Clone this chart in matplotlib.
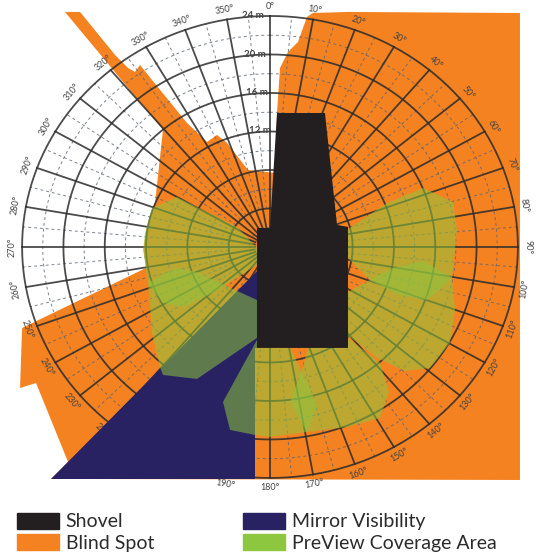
import numpy as np
import matplotlib.pyplot as plt
from matplotlib.patches import Patch, Polygon

# grid (metres and degrees, 0 at the top, clockwise)
major_rings = [4, 8, 12, 16, 20, 24]
minor_rings = [2, 6, 10, 14, 18, 22]
major_spokes = list(range(0, 360, 10))
minor_spokes = list(range(5, 360, 10))
range_labels = ['12 m', '16 m', '20 m', '24 m']
range_label_r = [12.1, 16.0, 20.0, 24.0]
range_label_x = [0.1, -0.2, -0.4, -0.6]

# regions as (x, y) in metres from the machine centre
blind_x = [-19.85, -18.39, -15.0, -13.75, -13.07, -12.58, -11.42, -8.03, -6.1, -5.13, -4.16, -2.13,
           0.48, 0.68, 0.97, 1.74, 2.71, 3.58, 4.16, 7.55, 24.2, 24.2, -21.2, -19.55, -22.65,
           -24.2, -24.0, -12.0, -12.25, -12.05, -11.38, -11.13, -10.36]
blind_y = [24.42, 24.42, 19.95, 18.6, 18.18, 18.91, 17.35, 12.88, 10.91, 11.64, 10.81, 8.0,
           7.69, 13.92, 18.6, 20.26, 21.3, 23.9, 24.31, 24.42, 24.31, -24.21, -24.1, -22.34, -14.13,
           -14.65, -8.42, -2.18, -0.31, 1.45, 4.05, 4.57, 12.16]

mirror_x = [-21.2, -1.45, -1.45, -1.16, -1.16]
mirror_y = [-24.1, -24.1, -10.5, -10.5, -2.39]

shovel_x = [-1.26, 0.0, 0.68, 5.32, 6.49, 7.55, 7.55, -1.26]
shovel_y = [1.97, 1.97, 13.92, 13.92, 2.29, 2.08, -10.49, -10.49]

preview_a_x = [-1.26, -3.19, -9.0, -11.42, -12.1, -12.29, -11.81, -10.36, -8.42, -5.52, -1.26]
preview_a_y = [-0.1, 2.08, 5.19, 4.05, 1.45, -0.31, -3.74, -5.82, -6.23, -4.78, -1.87]
preview_b_x = [-11.81, -9.2, -7.07, -3.39, -1.26, -1.26, -7.07, -10.36, -10.65, -11.42]
preview_b_y = [-3.74, -2.18, -2.6, -4.47, -5.51, -9.45, -13.71, -13.3, -12.47, -8.94]
preview_d_x = [-1.26, -4.55, -3.87, -1.45, 0.0, 3.58, 4.55, 2.9, 1.94, -1.26]
preview_d_y = [-9.66, -16.1, -19.01, -19.53, -19.74, -19.22, -16.42, -12.57, -10.49, -10.49]
preview_e_x = [3.68, 7.26, 7.55, 10.65, 11.52, 10.65, 7.45, 3.58, 1.94, 3.1]
preview_e_y = [-10.49, -10.18, -9.45, -12.05, -15.06, -17.77, -18.7, -19.22, -16.1, -12.78]
preview_f_x = [7.55, 9.68, 11.91, 14.81, 17.62, 17.91, 17.42, 15.49, 13.07, 10.36, 7.74, 7.26]
preview_f_y = [-4.68, -3.43, -2.18, -1.45, -3.22, -6.55, -9.97, -12.57, -12.88, -11.53, -9.35, -9.35]
preview_g_x = [7.45, 11.33, 14.81, 17.72, 18.1, 17.91, 17.62, 15.2, 12.58, 9.68, 7.55]
preview_g_y = [1.77, 4.57, 6.13, 4.68, 1.77, -0.31, -3.22, -5.51, -4.99, -3.43, -1.14]

ORANGE = '#F58220'
NAVY = '#282262'
BLACK = '#231F20'
GREEN = '#8DC63F'

plt.rcParams['font.family'] = ['Lato', 'DejaVu Sans']

fig = plt.figure(figsize=(5.37, 5.54), dpi=100)
ax = fig.add_axes([0, 0, 1, 1])
ax.set_xlim(-26.14, 25.85)
ax.set_ylim(-31.9, 25.66)
ax.axis('off')


def add_region(xs, ys, color, z, alpha=1.0):
    ax.add_patch(Polygon(np.column_stack([xs, ys]), closed=True, facecolor=color,
                         edgecolor='none', alpha=alpha, zorder=z))


def to_xy(r, deg):
    t = np.radians(deg)
    return r * np.sin(t), r * np.cos(t)


add_region(blind_x, blind_y, ORANGE, 1)

# rings and spokes
sweep = np.linspace(0, 360, 361)
for r in minor_rings:
    x, y = to_xy(r, sweep)
    ax.plot(x, y, color='#5a6474', lw=0.7, ls=(0, (3, 3)), alpha=0.8, zorder=2)
for a in minor_spokes:
    x, y = to_xy(np.array([4, 24]), a)
    ax.plot(x, y, color='#5a6474', lw=0.7, ls=(0, (3, 3)), alpha=0.8, zorder=2)
for r in major_rings:
    x, y = to_xy(r, sweep)
    ax.plot(x, y, color='#2b2b2b', lw=1.3, alpha=0.85, zorder=3)
for a in major_spokes:
    x, y = to_xy(np.array([1.5, 24]), a)
    ax.plot(x, y, color='#2b2b2b', lw=1.3, alpha=0.85, zorder=3)

# angle labels round the outside
for a in major_spokes:
    x, y = to_xy(25.0, a)
    if a <= 90:
        rot = -a
    elif a < 260:
        rot = 180 - a
    else:
        rot = 360 - a
    ax.text(x, y, f'{a}°', fontsize=6.5, color='#444444', rotation=rot,
            ha='center', va='center', rotation_mode='anchor', zorder=3)

for lab, r, x in zip(range_labels, range_label_r, range_label_x):
    ax.text(x, r, lab, fontsize=7, fontweight='bold', color='#444444',
            ha='right', va='center', zorder=3)

add_region(mirror_x, mirror_y, NAVY, 4)

for xs, ys in [(preview_a_x, preview_a_y), (preview_b_x, preview_b_y), (preview_d_x, preview_d_y),
               (preview_e_x, preview_e_y), (preview_f_x, preview_f_y), (preview_g_x, preview_g_y)]:
    add_region(xs, ys, GREEN, 5, alpha=0.55)

add_region(shovel_x, shovel_y, BLACK, 6)

handles = [Patch(color=BLACK, label='Shovel'), Patch(color=ORANGE, label='Blind Spot'),
           Patch(color=NAVY, label='Mirror Visibility'), Patch(color=GREEN, label='PreView Coverage Area')]
fig.legend(handles=handles, ncol=2, loc='lower left', bbox_to_anchor=(17 / 537, 2 / 554),
           frameon=False, fontsize=14, handlelength=2.15, handleheight=0.9, handletextpad=0.35,
           labelspacing=0.2, columnspacing=4.6, borderpad=0, borderaxespad=0, labelcolor='#2b2b2b')

fig.savefig('out.png', dpi=100)
